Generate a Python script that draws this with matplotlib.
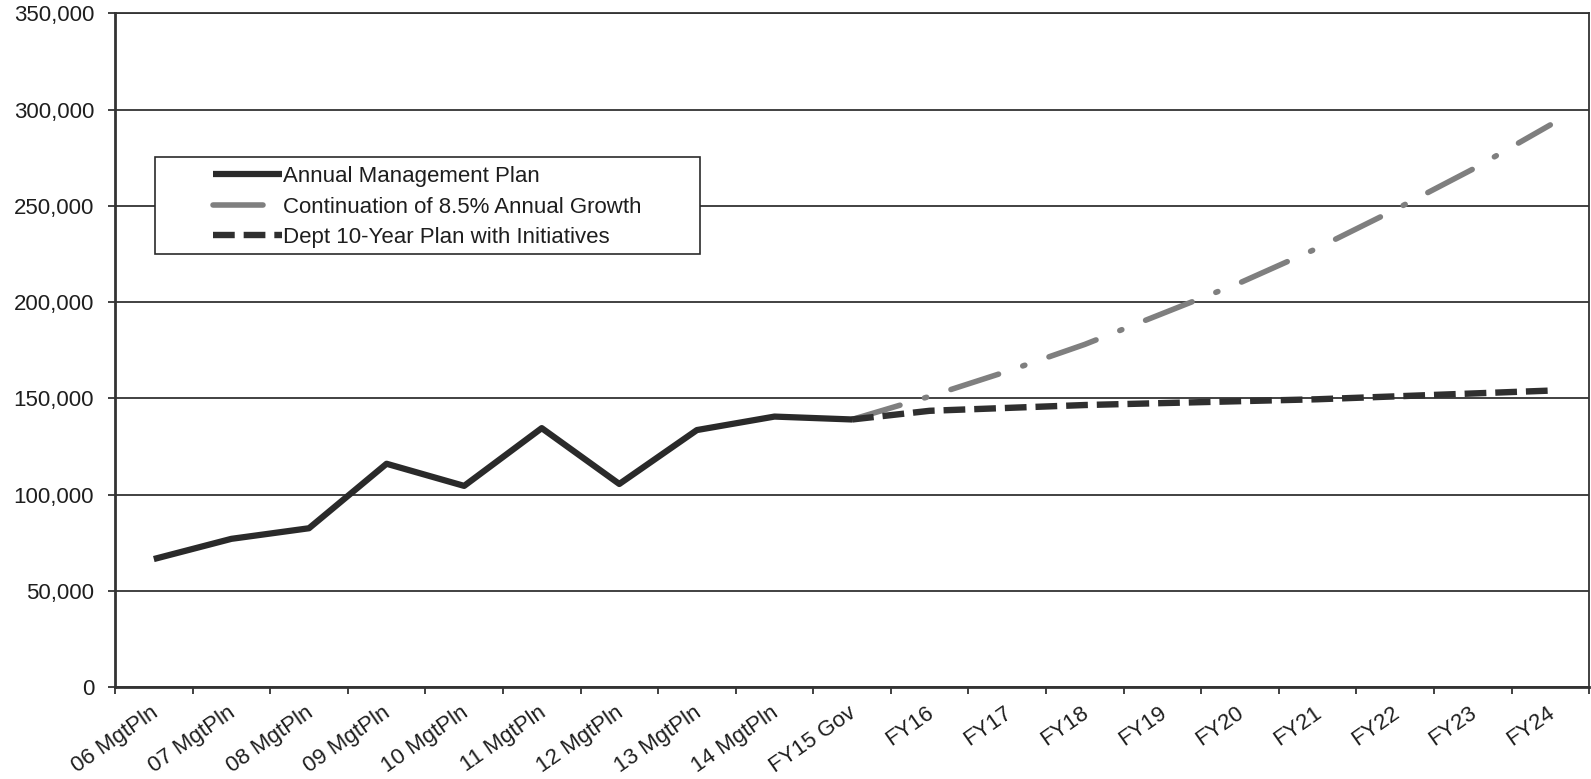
import matplotlib
matplotlib.use("Agg")
import matplotlib.pyplot as plt
import matplotlib.transforms as mtransforms
from matplotlib.patches import Rectangle
from matplotlib.ticker import FuncFormatter, FixedLocator

# categories along the x axis
categories = ["06 MgtPln", "07 MgtPln", "08 MgtPln", "09 MgtPln", "10 MgtPln",
              "11 MgtPln", "12 MgtPln", "13 MgtPln", "14 MgtPln", "FY15 Gov",
              "FY16", "FY17", "FY18", "FY19", "FY20", "FY21", "FY22", "FY23", "FY24"]

# annual management plan (06 MgtPln .. FY15 Gov)
annual_plan = [66500, 77000, 82500, 116000, 104500, 134500, 105500, 133500, 140500, 139000]

# continuation of 8.5% annual growth (FY15 Gov .. FY24)
growth = [139000, 151000, 164000, 178000, 194000, 210000, 228000, 248000, 269000, 292000]

# dept 10-year plan with initiatives (FY15 Gov .. FY24)
dept_plan = [139000, 143500, 145000, 146500, 147500, 148500, 149500, 151000, 152500, 154000]

labels = ["Annual Management Plan",
          "Continuation of 8.5% Annual Growth",
          "Dept 10-Year Plan with Initiatives"]

plt.rcParams['font.family'] = ['Liberation Sans', 'DejaVu Sans']
txt = '#1e1e1e'
fs = 16

fig = plt.figure(figsize=(15.91, 7.79), dpi=100)
ax = fig.add_axes([0.0723, 0.118, 0.9265, 0.865])

x_all = list(range(len(categories)))
x_hist = x_all[:len(annual_plan)]
x_proj = x_all[len(annual_plan) - 1:]

ax.plot(x_hist, annual_plan, color='#2a2a2a', lw=4.5, solid_capstyle='butt',
        solid_joinstyle='round', label=labels[0], zorder=5)
g, = ax.plot(x_proj, growth, color='#7f7f7f', lw=4.0, label=labels[1], zorder=3,
             dash_capstyle='round')
g.set_dashes([9.0, 4.6, 0.4, 4.6])
d, = ax.plot(x_proj, dept_plan, color='#2f2f2f', lw=4.6, label=labels[2], zorder=4)
d.set_dashes([3.4, 1.4])

ax.set_xlim(-0.5, len(categories) - 0.5)
ax.set_ylim(0, 350000)
ax.set_yticks(range(0, 350001, 50000))
ax.yaxis.set_major_formatter(FuncFormatter(lambda v, p: f"{int(v):,}"))
ax.grid(axis='y', color='#333333', lw=1.3)
ax.set_axisbelow(True)

for s in ax.spines.values():
    s.set_color('#333333')
    s.set_linewidth(1.3)
ax.spines['left'].set_linewidth(2)
ax.spines['bottom'].set_linewidth(2)

ax.tick_params(axis='y', length=5, width=1.3, color='#333333', pad=10,
               labelsize=fs, labelcolor=txt)

# category labels at centers, tick marks at boundaries
ax.set_xticks(x_all)
ax.set_xticklabels(categories, rotation=35, ha='right', va='top',
                   rotation_mode='anchor', fontsize=fs, color=txt)
ax.tick_params(axis='x', which='major', length=0, pad=11)
ax.xaxis.set_minor_locator(FixedLocator([i - 0.5 for i in range(len(categories) + 1)]))
ax.tick_params(axis='x', which='minor', length=5, width=1.3, color='#333333')
off = mtransforms.ScaledTranslation(-4 / 100, 0, fig.dpi_scale_trans)
for lab in ax.get_xticklabels():
    lab.set_transform(lab.get_transform() + off)

# legend box
ax.add_patch(Rectangle((0.0271, 0.6424), 0.3695, 0.144, transform=ax.transAxes,
                       facecolor='white', edgecolor='#2b2b2b', lw=1.2, zorder=6))
leg = ax.legend(loc='upper left', bbox_to_anchor=(0.0664, 0.773), frameon=False,
                fontsize=fs, handlelength=3.1, handletextpad=0.05, labelspacing=0.42,
                borderpad=0, borderaxespad=0)
leg.set_zorder(7)
for t in leg.get_texts():
    t.set_color(txt)

fig.savefig("out.png", dpi=100, facecolor='white')
